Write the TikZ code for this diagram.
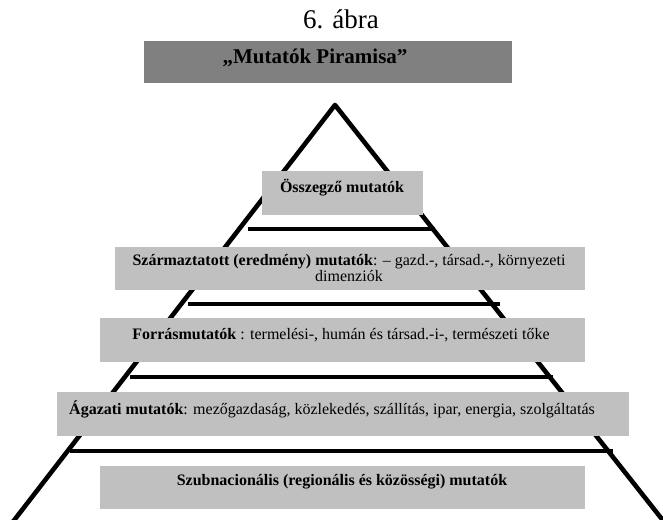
\documentclass[tikz,border=0pt]{standalone}
\usepackage{fontspec}
\setmainfont{Liberation Serif}
\definecolor{darkbox}{HTML}{808080}
\definecolor{lightbox}{HTML}{C0C0C0}
\tikzset{
  pyr/.style={line width=4.6pt, line join=round},
  rung/.style={line width=4.6pt},
  boxfill/.style={fill=lightbox, draw=none, inner sep=0pt},
  txt/.style={inner sep=0pt, font=\fontsize{16}{16}\selectfont, align=center},
}
\begin{document}
\begin{tikzpicture}[x=1pt, y=-1pt]
\useasboundingbox (0,0) rectangle (663,519);
% pyramid
\coordinate (apex) at (335,105);
\coordinate (bl) at (12,523);
\coordinate (br) at (665,523);
\draw[pyr] (bl) -- (apex) -- (br);
% rungs
\coordinate (r1l) at (248,229); \coordinate (r1r) at (435,229);
\coordinate (r2l) at (188,304); \coordinate (r2r) at (500,304);
\coordinate (r3l) at (130,377); \coordinate (r3r) at (553,377);
\coordinate (r4l) at (70,451);  \coordinate (r4r) at (613,451);
\draw[rung] (r1l) -- (r1r);
\draw[rung] (r2l) -- (r2r);
\draw[rung] (r3l) -- (r3r);
\draw[rung] (r4l) -- (r4r);
% caption
\node[inner sep=0pt, font=\fontsize{27}{28}\selectfont] (cap) at (341,19) {6. ábra};
% title box
\node[fill=darkbox, inner sep=0pt, minimum width=368pt, minimum height=42pt] (title) at (328,62) {};
\node[txt, font=\fontsize{21}{21}\selectfont\bfseries] (titletxt) at (315,58) {„Mutatók Piramisa”};
% boxes
\node[boxfill, minimum width=161pt, minimum height=44pt] (b1) at (342.5,193) {};
\node[txt, font=\fontsize{16}{16}\selectfont\bfseries] (t1) at (342,188) {Összegző mutatók};

\node[boxfill, minimum width=470pt, minimum height=43pt] (b2) at (350,268) {};
\node[txt] (t2) at (349,268) {\textbf{Származtatott (eredmény) mutatók}: – gazd.-, társad.-, környezeti\\dimenziók};

\node[boxfill, minimum width=485pt, minimum height=44pt] (b3) at (342.5,340) {};
\node[txt] (t3) at (341,335) {\textbf{Forrásmutatók} : termelési-, humán és társad.-i-, természeti tőke};

\node[boxfill, minimum width=572pt, minimum height=44pt] (b4) at (343,414) {};
\node[txt] (t4) at (332,409) {\textbf{Ágazati mutatók}: mezőgazdaság, közlekedés, szállítás, ipar, energia, szolgáltatás};

\node[boxfill, minimum width=485pt, minimum height=43pt] (b5) at (342.5,487.5) {};
\node[txt, font=\fontsize{16}{16}\selectfont\bfseries] (t5) at (342,482) {Szubnacionális (regionális és közösségi) mutatók};
\end{tikzpicture}
\end{document}
